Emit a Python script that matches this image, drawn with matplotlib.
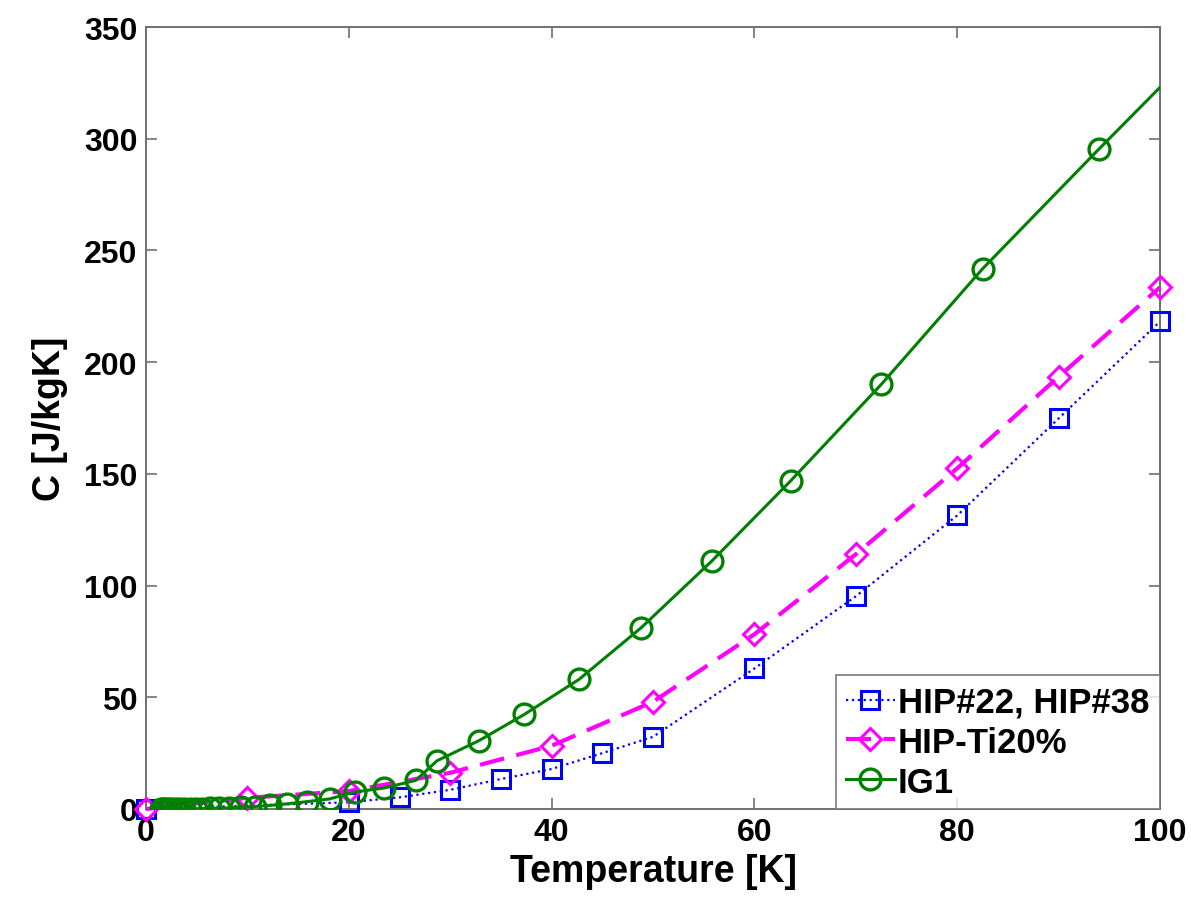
import matplotlib
matplotlib.use("Agg")
import matplotlib.pyplot as plt

# ---- data ----
hip_T = [0, 20, 25, 30, 35, 40, 45, 50, 60, 70, 80, 90, 100]
hip_C = [0, 3.0, 5.2, 8.6, 13.4, 17.9, 25.0, 32.3, 62.9, 95.2, 131.4, 174.8, 218.2]

ti_T = [0, 10, 20, 30, 40, 50, 60, 70, 80, 90, 100]
ti_C = [0, 5.0, 8.0, 16.2, 28.3, 48.0, 78.2, 114.0, 152.5, 193.5, 233.5]

ig_T = [1.5, 1.7, 1.9, 2.2, 2.5, 2.9, 3.3, 3.7, 4.3, 4.9, 5.5, 6.3, 7.2, 8.2,
        9.4, 10.7, 12.2, 13.9, 15.9, 18.1, 20.6, 23.5, 26.6, 28.7, 32.8, 37.3,
        42.7, 48.8, 55.8, 63.6, 72.5, 82.5, 94.0, 107.2]
ig_C = [0.01, 0.012, 0.015, 0.02, 0.025, 0.035, 0.045, 0.06, 0.09, 0.12, 0.17,
        0.25, 0.35, 0.5, 0.8, 1.1, 1.6, 2.3, 3.3, 4.5, 7.6, 9.4, 12.8, 21.6,
        30.5, 42.3, 58.0, 81.0, 111.0, 147.0, 190.0, 241.8, 295.5, 356.0]

labels = ["HIP#22, HIP#38", "HIP-Ti20%", "IG1"]
xticks = [0, 20, 40, 60, 80, 100]
yticks = [0, 50, 100, 150, 200, 250, 300, 350]

plt.rcParams['font.family'] = ['Liberation Sans', 'DejaVu Sans']
plt.rcParams['font.weight'] = 'bold'

fig = plt.figure(figsize=(11.91, 9.04), dpi=100)
ax = fig.add_axes([0.1226, 0.104, 0.8514, 0.865])

green = '#008000'
ax.plot(hip_T, hip_C, linestyle=':', color='#0000ff', lw=1.6, marker='s',
        ms=13, mfc='none', mec='#0000ff', mew=2.2, label=labels[0], zorder=3,
        clip_on=False)
ax.plot(ti_T, ti_C, linestyle=(0, (6, 3)), color='#ff00ff', lw=3, marker='D',
        ms=11, mfc='none', mec='#ff00ff', mew=2.2, label=labels[1], zorder=4,
        clip_on=False)
ax.plot(ig_T, ig_C, linestyle='-', color=green, lw=2.2, marker='o',
        ms=15, mfc='none', mec=green, mew=2.4, label=labels[2], zorder=5)

ax.set_xlim(0, 100)
ax.set_ylim(0, 350)
ax.set_xticks(xticks)
ax.set_yticks(yticks)
ax.tick_params(direction='in', length=8, width=1.2, color='#707070',
               labelsize=23, top=True, right=True, pad=6)
for lab in ax.get_xticklabels() + ax.get_yticklabels():
    lab.set_fontweight('bold')
for s in ax.spines.values():
    s.set_color('#707070')
    s.set_linewidth(1.4)

ax.set_xlabel('Temperature [K]', fontsize=27, fontweight='bold', labelpad=4)
ax.set_ylabel('C [J/kgK]', fontsize=27, fontweight='bold', labelpad=12)

leg = ax.legend(loc='lower right', fontsize=25, frameon=True, fancybox=False,
                borderaxespad=0, handlelength=1.4, handletextpad=0.1,
                borderpad=0.3, labelspacing=0.2)
leg.get_frame().set_edgecolor('#707070')
leg.get_frame().set_linewidth(1.4)
leg.set_zorder(10)
for t in leg.get_texts():
    t.set_fontweight('bold')

fig.savefig('out.png', dpi=100)
